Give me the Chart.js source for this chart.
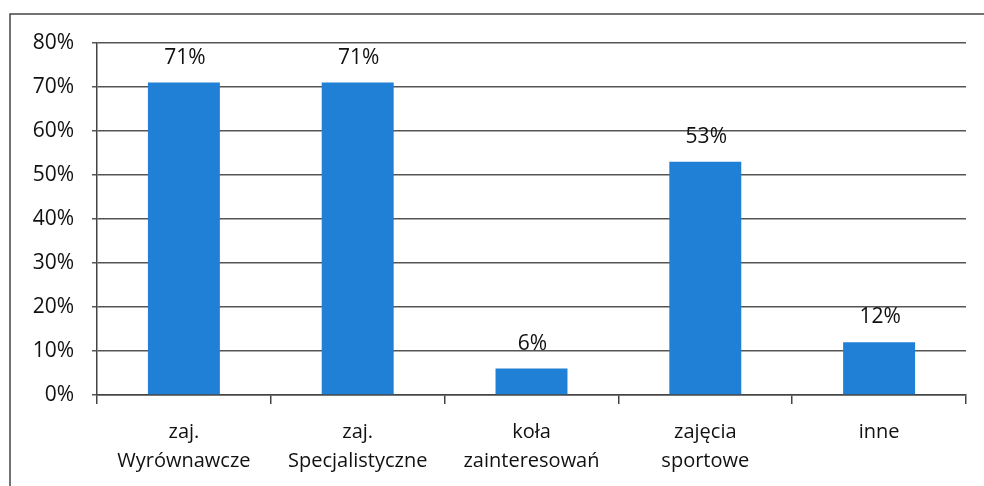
<!DOCTYPE html>
<html>
<head>
<meta charset="utf-8">
<script src="https://cdn.jsdelivr.net/npm/chart.js@4/dist/chart.umd.min.js"></script>
<style>
  html, body { margin: 0; padding: 0; background: #fff; }
  #wrap { width: 984px; height: 486px; }
</style>
</head>
<body>
<div id="wrap"><canvas id="c" width="984" height="486"></canvas></div>
<script>
const categories = [
  ['zaj.', 'Wyrównawcze'],
  ['zaj.', 'Specjalistyczne'],
  ['koła', 'zainteresowań'],
  ['zajęcia', 'sportowe'],
  'inne'
];
const values = [71, 71, 6, 53, 12];
const yMin = 0;
const yMax = 80;
const yStep = 10;

const FONT = "'Open Sans', 'Liberation Sans', sans-serif";
Chart.defaults.font.family = FONT;
Chart.defaults.font.size = 20;
Chart.defaults.color = '#111';

const frame = {
  id: 'frame',
  beforeDraw(chart) {
    const ctx = chart.ctx;
    ctx.save();
    ctx.fillStyle = '#fff';
    ctx.fillRect(0, 0, chart.width, chart.height);
    ctx.strokeStyle = '#444';
    ctx.lineWidth = 1.5;
    ctx.beginPath();
    ctx.moveTo(10, chart.height);
    ctx.lineTo(10, 14);
    ctx.lineTo(chart.width, 14);
    ctx.stroke();
    ctx.restore();
  }
};

const valueLabels = {
  id: 'valueLabels',
  afterDatasetsDraw(chart) {
    const ctx = chart.ctx;
    const meta = chart.getDatasetMeta(0);
    ctx.save();
    ctx.font = '21px ' + FONT;
    ctx.fillStyle = '#111';
    ctx.textAlign = 'center';
    ctx.textBaseline = 'alphabetic';
    meta.data.forEach((el, i) => {
      ctx.fillText(values[i] + '%', el.x + 1, el.y - 19);
    });
    ctx.restore();
  }
};

new Chart(document.getElementById('c'), {
  type: 'bar',
  data: {
    labels: categories,
    datasets: [{
      data: values,
      backgroundColor: '#1f80d5',
      borderWidth: 0,
      categoryPercentage: 1,
      barPercentage: 0.414
    }]
  },
  options: {
    responsive: false,
    animation: false,
    layout: { padding: { top: 43, right: 18, left: 0, bottom: 0 } },
    plugins: { legend: { display: false }, tooltip: { enabled: false } },
    scales: {
      x: {
        offset: true,
        grid: { drawOnChartArea: false, drawTicks: true, tickLength: 9, color: '#444', lineWidth: 1.5, offset: true },
        border: { display: true, color: '#444', width: 1.5 },
        ticks: { padding: 14, maxRotation: 0, autoSkip: false, font: { size: 20, lineHeight: 1.45 } },
        afterFit(scale) { scale.height = 91; }
      },
      y: {
        min: yMin,
        max: yMax,
        ticks: { stepSize: yStep, padding: 18, callback: v => v + '%', font: { size: 21 } },
        grid: { color: '#555', lineWidth: 1.5, tickLength: 5 },
        border: { display: true, color: '#444', width: 1.5 },
        afterFit(scale) { scale.width = 97; }
      }
    }
  },
  plugins: [frame, valueLabels]
});
</script>
</body>
</html>
